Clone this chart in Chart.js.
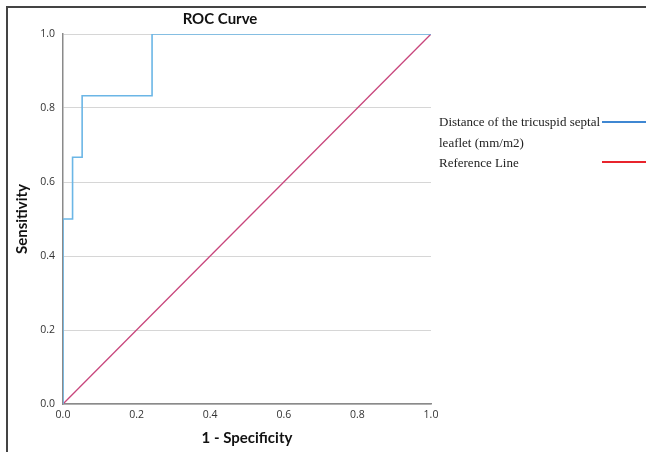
<!DOCTYPE html>
<html>
<head>
<meta charset="utf-8">
<script src="https://cdn.jsdelivr.net/npm/chart.js@4.4.1/dist/chart.umd.min.js"></script>
<style>
    body { margin: 0; background: #fff; }
    #wrap { position: relative; width: 646px; height: 452px; overflow: hidden; }
    #frame {
        position: absolute; left: 6px; top: 6px; right: 0; bottom: 0;
        border-top: 2px solid #444; border-left: 2px solid #444;
    }
    #chart { position: absolute; left: 0; top: 0; }
    .legend {
        position: absolute; left: 439px;
        font-family: 'Liberation Serif', 'Times New Roman', serif;
        font-size: 13px; color: #222; line-height: 21px;
    }
    .swatch { position: absolute; left: 602px; width: 44px; height: 2px; }
</style>
</head>
<body>
<div id="wrap">
    <div id="frame"></div>
    <canvas id="chart" width="646" height="452"></canvas>
    <div class="legend" style="top:111px">Distance of the tricuspid septal<br>leaflet (mm/m2)</div>
    <div class="swatch" style="top:121px; background:#3f87d2"></div>
    <div class="legend" style="top:152px">Reference Line</div>
    <div class="swatch" style="top:161px; background:#e8242c"></div>
</div>
<script>
// ========== DATA ==========

const rocFpr = [0, 0, 0.026, 0.026, 0.052, 0.052, 0.242, 0.242, 1];
const rocTpr = [0, 0.5, 0.5, 0.667, 0.667, 0.833, 0.833, 1, 1];
const refX = [0, 1];
const refY = [0, 1];
const tickValues = [0, 0.2, 0.4, 0.6, 0.8, 1.0];

const toPoints = (xs, ys) => xs.map((x, i) => ({ x: x, y: ys[i] }));

// ========== CHART ==========

const tickFont = { family: "'Open Sans', sans-serif", size: 10.5 };
const titleFont = { family: "Lato, sans-serif", size: 15, weight: 'bold' };

new Chart(document.getElementById('chart').getContext('2d'), {
    type: 'scatter',
    data: {
        datasets: [
            {
                label: 'Distance of the tricuspid septal leaflet (mm/m2)',
                data: toPoints(rocFpr, rocTpr),
                showLine: true,
                borderColor: '#6bb6e6',
                borderWidth: 1.6,
                pointRadius: 0,
                tension: 0
            },
            {
                label: 'Reference Line',
                data: toPoints(refX, refY),
                showLine: true,
                borderColor: '#c8467c',
                borderWidth: 1.3,
                pointRadius: 0
            }
        ]
    },
    options: {
        responsive: false,
        animation: false,
        layout: { padding: { left: 9, top: 0, right: 215, bottom: 0 } },
        plugins: {
            legend: { display: false },
            tooltip: { enabled: false },
            title: {
                display: true,
                text: 'ROC Curve',
                color: '#111',
                font: titleFont,
                padding: { top: 10, bottom: 6 }
            }
        },
        scales: {
            x: {
                type: 'linear',
                min: 0,
                max: 1,
                afterFit: s => { s.height = 48; },
                afterBuildTicks: s => { s.ticks = tickValues.map(v => ({ value: v })); },
                ticks: { color: '#333', font: tickFont, padding: 5, callback: v => v.toFixed(1) },
                grid: { display: false, drawTicks: false },
                border: { display: true, color: '#8a8a8a', width: 1.5 },
                title: {
                    display: true,
                    text: '1 - Specificity',
                    color: '#111',
                    font: titleFont,
                    padding: { top: 0, bottom: 5 }
                }
            },
            y: {
                type: 'linear',
                min: 0,
                max: 1,
                afterFit: s => { s.width = 54; },
                afterBuildTicks: s => { s.ticks = tickValues.map(v => ({ value: v })); },
                ticks: { color: '#333', font: tickFont, padding: 8, callback: v => v.toFixed(1) },
                grid: { color: '#d6d6d6', lineWidth: 1, drawTicks: false },
                border: { display: true, color: '#8a8a8a', width: 1.5 },
                title: {
                    display: true,
                    text: 'Sensitivity',
                    color: '#111',
                    font: titleFont,
                    padding: { top: 4, bottom: 0 }
                }
            }
        }
    }
});
</script>
</body>
</html>
